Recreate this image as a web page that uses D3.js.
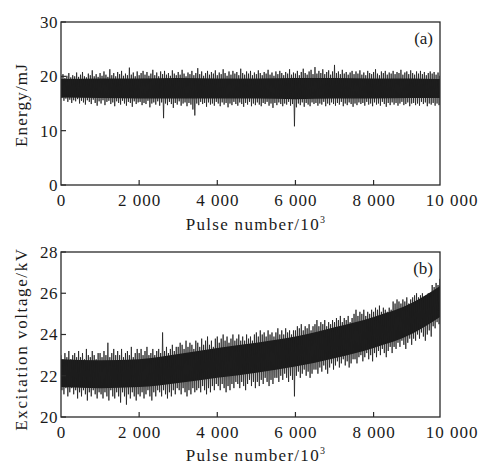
<!DOCTYPE html>
<html>
<head>
<meta charset="utf-8">
<script src="https://cdn.jsdelivr.net/npm/d3@7/dist/d3.min.js"></script>
<style>
  body { margin: 0; background: #fff; }
  text { font-family: "Liberation Serif", "Times New Roman", serif; fill: #1a1a1a; }
</style>
</head>
<body>
<svg id="chart" width="478" height="465"></svg>
<script>
// Sample spacing of the traces (pulse number / 10^3)
const step = 50;

// Panel (a) energy, mJ: spike maxima and minima per 50 pulses
const energyHi = [
  19.9, 20.4, 19.7, 20.1, 20.6, 19.8, 20.2, 20.0, 20.7, 19.9,
  20.3, 20.8, 20.0, 19.8, 20.5, 20.2, 21.1, 20.0, 20.4, 19.9,
  20.6, 20.1, 20.9, 20.3, 19.9, 21.3, 20.2, 20.6, 20.0, 20.8,
  20.4, 21.0, 20.1, 20.5, 20.2, 21.6, 20.3, 20.7, 20.0, 20.9,
  20.2, 20.6, 21.0, 20.3, 20.8, 20.1, 20.5, 21.2, 20.2, 20.7,
  20.0, 20.9, 20.4, 21.0, 20.3, 20.6, 20.1, 21.1, 20.5, 20.2,
  20.8, 20.3, 21.2, 20.5, 20.0, 20.7, 20.4, 21.0, 20.2, 20.6,
  21.5, 20.4, 20.9, 20.1, 20.6, 21.0, 20.3, 20.8, 20.5, 21.1,
  20.2, 20.7, 20.4, 21.3, 20.6, 20.1, 20.9, 20.3, 21.0, 20.5,
  20.8, 20.2, 21.4, 20.6, 20.3, 20.9, 20.5, 21.0, 20.2, 20.7,
  20.4, 21.1, 20.6, 20.2, 20.8, 20.5, 21.2, 20.3, 20.7, 20.1,
  20.9, 20.4, 21.0, 20.6, 20.2, 20.8, 20.5, 21.3, 20.3, 20.7,
  20.5, 21.0, 20.2, 20.8, 21.4, 20.6, 20.3, 20.9, 21.2, 20.4,
  21.7, 20.5, 21.0, 20.6, 21.3, 20.4, 20.8, 21.1, 20.3, 20.9,
  22.1, 20.6, 20.9, 20.4, 21.2, 20.5, 20.8, 20.3, 20.7, 21.0,
  20.4, 20.9, 20.5, 21.1, 20.3, 20.7, 20.2, 21.0, 20.6, 20.4,
  20.8, 21.3, 20.5, 20.2, 20.9, 20.6, 21.0, 20.3, 20.7, 20.5,
  21.0, 20.4, 20.8, 20.6, 21.2, 20.3, 20.7, 20.9, 20.4, 21.1,
  20.6, 20.3, 20.9, 20.5, 21.0, 20.4, 20.8, 20.2, 20.6, 20.9,
  20.5, 20.8, 20.3, 20.7, 20.1
];
const energyLo = [
  16.0, 15.5, 15.9, 15.3, 15.7, 15.1, 15.6, 15.4, 15.8, 15.0,
  15.5, 15.2, 14.8, 15.6, 15.3, 14.9, 15.7, 15.1, 14.6, 15.4,
  15.0, 15.6, 14.7, 15.3, 15.5, 14.9, 15.2, 14.5, 15.4, 15.1,
  14.8, 15.5, 15.0, 14.6, 15.3, 15.1, 14.4, 15.4, 14.9, 15.2,
  15.3, 14.7, 15.1, 14.9, 15.5, 14.3, 15.0, 15.2, 14.8, 15.4,
  14.6, 15.2, 12.3, 15.0, 14.7, 15.3, 14.9, 14.2, 15.1, 14.8,
  15.4, 14.6, 15.0, 15.2, 14.5, 15.1, 14.8, 13.9, 12.8, 15.0,
  14.7, 15.3, 14.9, 15.1, 14.4, 15.2, 14.8, 15.0, 14.6, 15.3,
  15.0, 14.5, 15.2, 14.8, 15.1, 14.3, 15.0, 14.7, 15.3, 14.9,
  14.6, 15.2, 14.9, 14.4, 15.1, 14.8, 15.3, 14.5, 15.0, 14.7,
  15.2, 14.8, 14.5, 15.1, 14.9, 15.3, 14.6, 15.0, 14.2, 15.1,
  14.7, 15.2, 14.9, 14.5, 15.0, 14.8, 15.3, 14.6, 14.9, 10.8,
  14.3, 15.0, 14.7, 15.2, 14.4, 15.1, 14.8, 14.5, 15.2, 14.9,
  15.1, 14.6, 15.0, 14.8, 15.3, 14.5, 15.0, 14.7, 15.2, 14.9,
  14.6, 15.1, 14.8, 15.3, 14.5, 15.0, 14.7, 15.2, 14.9, 14.4,
  15.0, 14.7, 15.2, 14.9, 15.1, 14.6, 15.3, 14.8, 15.0, 14.5,
  15.2, 14.8, 15.0, 14.6, 15.3, 14.9, 14.4, 15.1, 14.7, 15.2,
  14.8, 15.1, 14.6, 15.0, 15.3, 14.7, 14.9, 15.2, 14.5, 15.0,
  15.1, 14.7, 15.0, 14.6, 15.3, 14.9, 15.2, 14.5, 15.0, 14.8,
  15.1, 14.6, 15.0, 14.7, 14.0
];

// Dense core of each trace, every 1000 pulses (last point at 9700)
const corePulses = [0, 1000, 2000, 3000, 4000, 5000, 6000, 7000, 8000, 9000, 9700];
const energyCoreTop = [19.5, 19.6, 19.6, 19.7, 19.6, 19.6, 19.7, 19.7, 19.6, 19.6, 19.5];
const energyCoreBot = [16.1, 16.0, 15.9, 15.9, 15.9, 15.9, 15.8, 15.9, 15.9, 16.0, 16.0];

// Panel (b) excitation voltage, kV
const voltHi = [
  23.0, 22.8, 23.1, 22.9, 23.2, 22.8, 23.0, 23.1, 22.9, 23.2,
  22.9, 23.1, 22.8, 23.3, 23.0, 22.9, 23.2, 23.0, 22.8, 23.1,
  23.1, 22.9, 23.2, 23.0, 23.6, 22.9, 23.1, 23.3, 23.0, 23.2,
  23.0, 23.3, 22.9, 23.1, 23.2, 23.0, 23.4, 22.9, 23.1, 23.3,
  23.1, 23.3, 23.0, 23.2, 23.4, 23.0, 23.1, 23.3, 23.0, 23.2,
  23.3, 23.1, 24.1, 23.2, 23.4, 23.1, 23.3, 23.5, 23.2, 23.4,
  23.4, 23.6, 23.5, 23.3, 23.7, 23.4, 23.6, 23.5, 23.3, 23.7,
  23.6, 23.4, 23.8, 23.5, 23.7, 23.9, 23.5, 23.7, 23.4, 23.8,
  23.9, 23.6, 23.8, 24.0, 23.7, 23.9, 23.6, 23.8, 24.0, 23.7,
  23.8, 24.0, 23.7, 23.9, 23.7, 24.0, 23.8, 23.9, 23.7, 24.0,
  24.1, 23.9, 24.2, 24.0, 24.1, 23.9, 24.2, 24.0, 24.1, 23.9,
  24.1, 24.3, 24.0, 24.2, 24.0, 24.3, 24.1, 24.2, 24.0, 24.2,
  24.2, 24.4, 24.3, 24.5, 24.2, 24.4, 24.3, 24.5, 24.2, 24.4,
  24.5, 24.7, 24.4, 24.6, 24.5, 24.7, 24.4, 24.6, 24.5, 24.7,
  24.6, 24.8, 24.7, 24.9, 24.6, 24.8, 24.7, 24.9, 24.6, 24.8,
  25.0, 25.2, 24.9, 25.1, 25.0, 25.2, 24.9, 25.1, 25.0, 25.2,
  25.1, 25.3, 25.2, 25.4, 25.1, 25.3, 25.2, 25.1, 25.3, 25.2,
  25.6, 25.5, 25.7, 25.6, 25.5, 25.7, 25.6, 25.8, 25.5, 25.7,
  25.8, 25.9, 26.0, 25.8, 25.9, 26.0, 25.8, 25.9, 26.0, 25.8,
  26.4, 26.3, 26.5, 26.4, 26.7
];
const voltLo = [
  21.3, 21.1, 21.4, 21.0, 21.2, 21.4, 21.1, 21.3, 20.9, 21.2,
  21.0, 21.3, 21.1, 20.8, 21.2, 21.0, 21.3, 21.1, 20.9, 21.2,
  21.1, 20.9, 21.2, 21.0, 20.8, 21.3, 21.0, 20.9, 21.2, 21.0,
  20.7, 21.2, 21.0, 20.6, 21.1, 20.9, 21.2, 21.0, 20.8, 21.1,
  21.0, 21.2, 20.9, 21.1, 21.3, 21.0, 20.8, 21.2, 21.0, 21.3,
  21.2, 21.0, 21.3, 21.1, 20.9, 21.2, 21.0, 21.3, 21.1, 21.4,
  21.3, 21.1, 21.4, 21.2, 21.0, 21.3, 21.1, 21.4, 21.2, 21.3,
  21.4, 21.2, 21.5, 21.3, 21.1, 21.4, 21.2, 21.5, 21.3, 21.6,
  21.5, 21.3, 21.6, 21.4, 21.2, 21.5, 21.3, 21.6, 21.4, 21.7,
  21.6, 21.4, 21.7, 21.5, 21.3, 21.6, 21.8, 21.5, 21.7, 21.4,
  21.7, 21.5, 21.8, 21.6, 21.9, 21.7, 21.5, 21.8, 21.6, 21.9,
  21.9, 21.7, 22.0, 21.8, 22.1, 21.9, 21.7, 22.0, 21.8, 21.0,
  22.0, 22.2, 21.9, 22.1, 22.3, 22.0, 22.2, 21.9, 22.1, 22.3,
  22.3, 22.1, 22.4, 22.2, 22.5, 22.3, 22.1, 22.4, 22.6, 22.3,
  22.5, 22.7, 22.4, 22.6, 22.8, 22.5, 22.7, 22.4, 22.6, 22.8,
  22.8, 22.6, 22.9, 23.0, 22.7, 22.9, 23.1, 22.8, 23.0, 22.7,
  23.1, 22.9, 23.2, 23.0, 23.3, 23.1, 22.9, 23.2, 23.4, 23.1,
  23.4, 23.3, 23.6, 23.4, 23.7, 23.5, 23.3, 23.6, 23.8, 23.5,
  23.8, 23.7, 24.0, 23.8, 24.1, 23.9, 23.7, 24.0, 24.2, 23.9,
  24.4, 24.3, 24.6, 24.5, 24.1
];
const voltCoreTop = [22.8, 22.75, 22.8, 23.05, 23.35, 23.6, 23.9, 24.35, 24.85, 25.55, 26.35];
const voltCoreBot = [21.45, 21.4, 21.45, 21.65, 21.9, 22.15, 22.45, 22.85, 23.35, 24.05, 24.85];

const xTicks = [0, 2000, 4000, 6000, 8000, 10000];
const energyTicks = [0, 10, 20, 30];
const voltTicks = [20, 22, 24, 26, 28];

const svg = d3.select("#chart");
const left = 61, right = 440;

function fmt(v) {
    // "10 000" style with a space as thousands separator
    return d3.format(",")(v).replace(/,/g, " ");
}

function drawPanel(opt) {
    const x = d3.scaleLinear().domain([0, 9700]).range([left, right]);
    const y = d3.scaleLinear().domain(opt.yDomain).range([opt.bottom, opt.top]);
    const g = svg.append("g");

    g.append("clipPath").attr("id", opt.id)
        .append("rect")
        .attr("x", left).attr("y", opt.top)
        .attr("width", right - left).attr("height", opt.bottom - opt.top);

    const plot = g.append("g").attr("clip-path", `url(#${opt.id})`);

    const area = d3.area()
        .x((d, i) => x(corePulses[i]))
        .y0((d, i) => y(opt.coreBot[i]))
        .y1(d => y(d))
        .curve(d3.curveMonotoneX);
    plot.append("path")
        .attr("d", area(opt.coreTop))
        .attr("fill", "#1a1a1a");

    // zigzag trace: max then min for every sample
    const pts = [];
    opt.hi.forEach((v, i) => {
        pts.push([i * step, v]);
        pts.push([i * step + step / 2, opt.lo[i]]);
    });
    const line = d3.line().x(d => x(d[0])).y(d => y(d[1]));
    plot.append("path")
        .attr("d", line(pts))
        .attr("fill", "none")
        .attr("stroke", "#1e1e1e")
        .attr("stroke-width", 0.8);

    // frame
    g.append("rect")
        .attr("x", left).attr("y", opt.top)
        .attr("width", right - left).attr("height", opt.bottom - opt.top)
        .attr("fill", "none")
        .attr("stroke", "#2a2a2a")
        .attr("stroke-width", 1.3);

    // x ticks (inward) and labels
    g.selectAll(".xt").data(xTicks.filter(t => t > 0 && t < 9700)).enter()
        .append("line")
        .attr("x1", d => x(d)).attr("x2", d => x(d))
        .attr("y1", opt.bottom).attr("y2", opt.bottom - 5)
        .attr("stroke", "#2a2a2a").attr("stroke-width", 1.2);
    g.selectAll(".xl").data(xTicks).enter()
        .append("text")
        .attr("x", d => x(d) + 0.5).attr("y", opt.bottom + 21)
        .attr("text-anchor", "middle")
        .attr("font-size", 17)
        .attr("letter-spacing", 1)
        .text(fmt);

    // y ticks (inward) and labels
    g.selectAll(".yt").data(opt.yTicks).enter()
        .append("line")
        .attr("x1", left).attr("x2", left + 5)
        .attr("y1", d => y(d)).attr("y2", d => y(d))
        .attr("stroke", "#2a2a2a").attr("stroke-width", 1.2);
    g.selectAll(".yl").data(opt.yTicks).enter()
        .append("text")
        .attr("x", left - 3).attr("y", d => y(d))
        .attr("dy", "0.35em")
        .attr("text-anchor", "end")
        .attr("font-size", 17)
        .attr("letter-spacing", 0.5)
        .text(d => d);

    // axis titles
    const xt = g.append("text")
        .attr("x", 256).attr("y", opt.xTitleY)
        .attr("text-anchor", "middle")
        .attr("font-size", 17)
        .attr("letter-spacing", 1.3);
    xt.append("tspan").text("Pulse number/10");
    xt.append("tspan").attr("dy", -7).attr("font-size", 10).text("3");

    g.append("text")
        .attr("transform", `translate(${opt.yTitleX},${opt.yTitleY}) rotate(-90)`)
        .attr("text-anchor", "middle")
        .attr("font-size", 17)
        .attr("letter-spacing", opt.yTitleSpacing)
        .text(opt.yTitle);

    g.append("text")
        .attr("x", 433).attr("y", opt.top + 22)
        .attr("text-anchor", "end")
        .attr("font-size", 17)
        .text(opt.tag);
}

drawPanel({
    id: "clipA", top: 22, bottom: 185, yDomain: [0, 30], yTicks: energyTicks,
    hi: energyHi, lo: energyLo, coreTop: energyCoreTop, coreBot: energyCoreBot,
    xTitleY: 230, yTitle: "Energy/mJ", yTitleX: 27, yTitleY: 105, yTitleSpacing: 1.2,
    tag: "(a)"
});

drawPanel({
    id: "clipB", top: 252, bottom: 417, yDomain: [20, 28], yTicks: voltTicks,
    hi: voltHi, lo: voltLo, coreTop: voltCoreTop, coreBot: voltCoreBot,
    xTitleY: 461, yTitle: "Excitation voltage/kV", yTitleX: 27, yTitleY: 339, yTitleSpacing: 1.6,
    tag: "(b)"
});
</script>
</body>
</html>
